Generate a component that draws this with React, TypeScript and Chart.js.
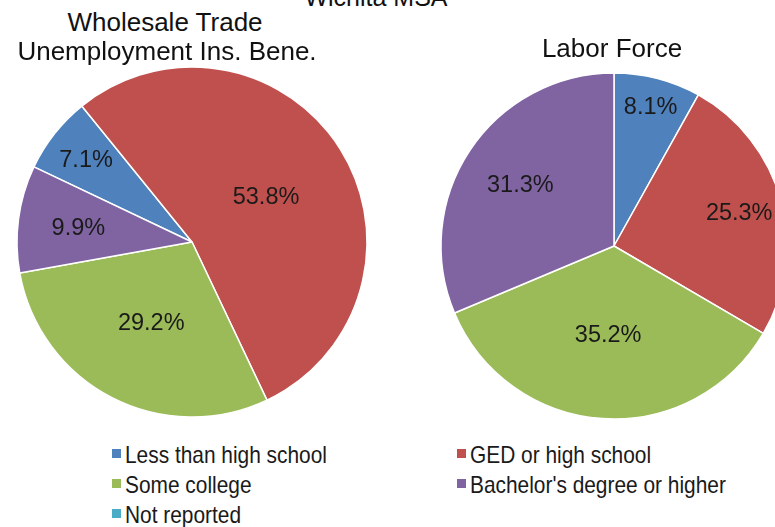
import React, { useEffect, useRef } from 'react';
import { Chart, registerables } from 'chart.js';

Chart.register(...registerables);

// ---- data ----
const categories = [
  'Less than high school',
  'GED or high school',
  'Some college',
  "Bachelor's degree or higher",
  'Not reported',
];
const wholesaleValues = [7.1, 53.8, 29.2, 9.9, 0];
const laborForceValues = [8.1, 25.3, 35.2, 31.3, 0];
const sliceColors = ['#4F81BD', '#C0504D', '#9BBB59', '#8064A2', '#4BACC6'];
const mainTitle = 'Wichita MSA';
const wholesaleTitle = ['Wholesale Trade', 'Unemployment Ins. Bene.'];
const laborTitle = ['Labor Force'];

const FONT = '"Liberation Sans", Arial, Helvetica, sans-serif';

// label placement (fraction of radius) per slice, like Excel's best fit
const wholesaleLabelRadii = [0.77, 0.5, 0.51, 0.655, 0.5];
const laborLabelRadii = [0.84, 0.75, 0.51, 0.65, 0.5];

const sliceLabels = {
  id: 'sliceLabels',
  afterDatasetsDraw(chart: any, _args: any, opts: any) {
    const ctx = chart.ctx;
    const meta = chart.getDatasetMeta(0);
    const values = chart.data.datasets[0].data as number[];
    ctx.save();
    ctx.font = `${opts.size}px ${FONT}`;
    ctx.fillStyle = opts.color;
    ctx.textAlign = 'center';
    ctx.textBaseline = 'alphabetic';
    meta.data.forEach((arc: any, i: number) => {
      const v = values[i];
      if (!v) return;
      const p = arc.getProps(['x', 'y', 'startAngle', 'endAngle', 'outerRadius'], true);
      const mid = (p.startAngle + p.endAngle) / 2;
      const r = p.outerRadius * opts.radii[i];
      const lx = p.x + Math.cos(mid) * r;
      const ly = p.y + Math.sin(mid) * r;
      ctx.fillText(v.toFixed(1) + '%', lx, ly + opts.size * 0.36);
    });
    ctx.restore();
  },
};

type PieProps = {
  values: number[];
  rotation: number;
  radius: number;
  radii: number[];
  left: number;
  top: number;
  size: number;
};

function PieChart({ values, rotation, radius, radii, left, top, size }: PieProps) {
  const ref = useRef<HTMLCanvasElement>(null);
  useEffect(() => {
    const chart = new Chart(ref.current as HTMLCanvasElement, {
      type: 'pie',
      data: {
        labels: categories,
        datasets: [
          {
            data: values,
            backgroundColor: sliceColors,
            borderColor: '#ffffff',
            borderWidth: 1.5,
            rotation,
            radius,
          } as any,
        ],
      },
      options: {
        responsive: false,
        animation: false,
        layout: { padding: 0 },
        plugins: {
          legend: { display: false },
          tooltip: { enabled: false },
          title: { display: false },
          sliceLabels: { radii, size: 23.5, color: '#1a1a1a' },
        } as any,
      },
      plugins: [sliceLabels as any],
    });
    return () => chart.destroy();
  }, []);
  return (
    <canvas
      ref={ref}
      width={size}
      height={size}
      style={{ position: 'absolute', left, top, width: size, height: size }}
    />
  );
}

function Txt({ text, cx, baseline, size }: { text: string; cx: number; baseline: number; size: number }) {
  return (
    <div
      style={{
        position: 'absolute',
        left: cx,
        top: baseline - size * 0.8465,
        transform: 'translateX(-50%)',
        fontSize: size,
        lineHeight: `${size}px`,
        whiteSpace: 'nowrap',
        color: '#111',
        fontFamily: FONT,
      }}
    >
      {text}
    </div>
  );
}

const legendCols = [{ sq: 112, tx: 125 }, { sq: 457, tx: 470 }];
const legendBaselines = [463, 493, 523];

export default function App() {
  return (
    <div
      style={{
        position: 'fixed',
        left: 0,
        top: 0,
        width: 775,
        height: 527,
        overflow: 'hidden',
        background: '#fff',
        fontFamily: FONT,
      }}
    >
      <PieChart values={wholesaleValues} rotation={295.4} radius={175} radii={wholesaleLabelRadii} left={2} top={52} size={380} />
      <PieChart values={laborForceValues} rotation={0} radius={173} radii={laborLabelRadii} left={424} top={56} size={380} />
      <Txt text={mainTitle} cx={376} baseline={6} size={25} />
      <Txt text={wholesaleTitle[0]} cx={165} baseline={31} size={26} />
      <Txt text={wholesaleTitle[1]} cx={167} baseline={60} size={26} />
      <Txt text={laborTitle[0]} cx={612} baseline={57} size={26} />
      {categories.map((c, i) => {
        const col = legendCols[i % 2];
        const base = legendBaselines[Math.floor(i / 2)];
        return (
          <React.Fragment key={c}>
            <div
              style={{
                position: 'absolute',
                left: col.sq,
                top: base - 14,
                width: 9,
                height: 9,
                background: sliceColors[i],
              }}
            />
            <div
              style={{
                position: 'absolute',
                left: col.tx,
                top: base - 24 * 0.8465,
                fontSize: 24,
                lineHeight: '24px',
                whiteSpace: 'nowrap',
                color: '#1a1a1a',
                transform: 'scaleX(0.87)',
                transformOrigin: 'left center',
                fontFamily: FONT,
              }}
            >
              {c}
            </div>
          </React.Fragment>
        );
      })}
    </div>
  );
}
